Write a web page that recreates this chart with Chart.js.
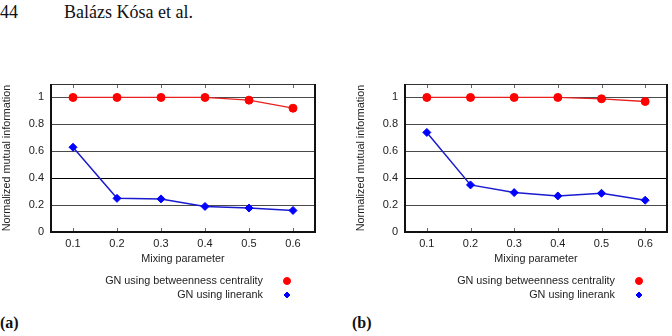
<!DOCTYPE html>
<html>
<head>
<meta charset="utf-8">
<script src="https://cdn.jsdelivr.net/npm/chart.js@4.4.0/dist/chart.umd.min.js"></script>
<style>
    html, body { margin: 0; padding: 0; width: 672px; height: 336px; overflow: hidden; background: #fff; }
    .serif { position: absolute; font-family: "Liberation Serif", "DejaVu Serif", serif; font-size: 16px; line-height: 16px; color: #111; }
    .head { font-size: 18px; line-height: 18px; top: 3px; }
    canvas { position: absolute; top: 60px; }
</style>
</head>
<body>
<div class="serif head" style="left:0;">44</div>
<div class="serif head" style="left:64px;">Balázs Kósa et al.</div>
<canvas id="chartA" width="336" height="250" style="left:0;"></canvas>
<canvas id="chartB" width="318" height="250" style="left:354px;"></canvas>
<div class="serif" style="left:0; top:315px; font-weight:bold;">(a)</div>
<div class="serif" style="left:352px; top:315px; font-weight:bold;">(b)</div>
<script>
// x categories and y tick values
var mixing = ['0.1', '0.2', '0.3', '0.4', '0.5', '0.6'];
var yTicks = [0, 0.2, 0.4, 0.6, 0.8, 1];
var seriesNames = ['GN using betweenness centrality', 'GN using linerank'];

// panel (a)
var betweennessA = [1, 1, 1, 1, 0.98, 0.92];
var linerankA = [0.63, 0.25, 0.246, 0.19, 0.178, 0.16];

// panel (b)
var betweennessB = [1, 1, 1, 1, 0.99, 0.97];
var linerankB = [0.74, 0.35, 0.293, 0.268, 0.288, 0.236];

var textFont = 'Liberation Sans, Arial, sans-serif';
var labelSize = 10.8;

// frame around plot area plus small inward ticks at the categories
var framePlugin = {
    id: 'frame',
    beforeDatasetsDraw: function (chart) {
        var ctx = chart.ctx;
        var a = chart.chartArea;
        var xs = chart.scales.x;
        ctx.save();
        ctx.strokeStyle = '#666';
        ctx.lineWidth = 1;
        for (var i = 0; i < xs.ticks.length; i++) {
            var px = Math.round(xs.getPixelForTick(i)) + 0.5;
            ctx.beginPath();
            ctx.moveTo(px, a.bottom); ctx.lineTo(px, a.bottom - 4);
            ctx.moveTo(px, a.top); ctx.lineTo(px, a.top + 4);
            ctx.stroke();
        }
        ctx.strokeStyle = '#333';
        ctx.beginPath();
        ctx.moveTo(a.left, Math.round(a.top) + 0.5);
        ctx.lineTo(a.right, Math.round(a.top) + 0.5);
        ctx.stroke();
        ctx.strokeStyle = '#111';
        ctx.lineWidth = 2;
        ctx.beginPath();
        ctx.moveTo(Math.round(a.left), a.top);
        ctx.lineTo(Math.round(a.left), Math.round(a.bottom));
        ctx.lineTo(Math.round(a.right), Math.round(a.bottom));
        ctx.lineTo(Math.round(a.right), a.top);
        ctx.stroke();
        ctx.restore();
    }
};

// gnuplot style key: right aligned text, marker on the right
var keyPlugin = {
    id: 'key',
    afterDraw: function (chart) {
        var ctx = chart.ctx;
        var a = chart.chartArea;
        ctx.save();
        ctx.font = labelSize + 'px ' + textFont;
        ctx.textAlign = 'right';
        ctx.textBaseline = 'middle';
        chart.data.datasets.forEach(function (ds, i) {
            var y = a.bottom + 49 + i * 14;
            ctx.fillStyle = '#222';
            ctx.fillText(ds.label, a.right - 52, y);
            ctx.fillStyle = ds.pointBackgroundColor;
            ctx.strokeStyle = ds.pointBorderColor;
            ctx.lineWidth = 1;
            Chart.helpers.drawPoint(ctx, {
                pointStyle: ds.pointStyle,
                radius: ds.pointStyle === 'circle' ? 3.5 : 3,
                rotation: 0,
                borderWidth: 1
            }, a.right - 28, y);
        });
        ctx.restore();
    }
};

function makeChart(id, betweenness, linerank, padRight) {
    var ctx = document.getElementById(id).getContext('2d');
    return new Chart(ctx, {
        type: 'line',
        data: {
            labels: mixing,
            datasets: [{
                label: seriesNames[0],
                data: betweenness,
                borderColor: '#e82020',
                borderWidth: 1.3,
                pointStyle: 'circle',
                pointRadius: 4,
                pointBorderWidth: 1,
                pointBackgroundColor: '#ff0000',
                pointBorderColor: '#ff0000',
                tension: 0
            }, {
                label: seriesNames[1],
                data: linerank,
                borderColor: '#1a1ad0',
                borderWidth: 1.5,
                pointStyle: 'rectRot',
                pointRadius: 4,
                pointBorderWidth: 1,
                pointBackgroundColor: '#0000ff',
                pointBorderColor: '#0000ff',
                tension: 0
            }]
        },
        options: {
            responsive: false,
            animation: false,
            devicePixelRatio: 1,
            layout: {
                padding: { left: 1, top: 24, right: padRight, bottom: 38 }
            },
            plugins: {
                legend: { display: false },
                tooltip: { enabled: false }
            },
            scales: {
                x: {
                    type: 'category',
                    offset: true,
                    grid: { display: false, drawTicks: false },
                    border: { display: false },
                    ticks: { color: '#222', padding: 5, font: { family: textFont, size: 11 } },
                    title: {
                        display: true,
                        text: 'Mixing parameter',
                        color: '#222',
                        padding: { top: 0, bottom: 6.5 },
                        font: { family: textFont, size: labelSize }
                    },
                    afterFit: function (scale) { scale.height = 40; }
                },
                y: {
                    min: 0,
                    max: 1.1,
                    afterBuildTicks: function (scale) {
                        scale.ticks = yTicks.map(function (v) { return { value: v }; });
                    },
                    grid: {
                        drawTicks: false,
                        lineWidth: 1,
                        color: function (c) { return c.tick && c.tick.value === 0.4 ? '#000' : '#4a4a4a'; }
                    },
                    border: { display: false },
                    ticks: {
                        color: '#222',
                        padding: 7,
                        font: { family: textFont, size: 11 },
                        callback: function (v) { return String(v); }
                    },
                    title: {
                        display: true,
                        text: 'Normalized mutual information',
                        color: '#222',
                        padding: { top: 0, bottom: 0 },
                        font: { family: textFont, size: labelSize }
                    },
                    afterFit: function (scale) { scale.width = 50; }
                }
            }
        },
        plugins: [framePlugin, keyPlugin]
    });
}

makeChart('chartA', betweennessA, linerankA, 21);
makeChart('chartB', betweennessB, linerankB, 3);
</script>
</body>
</html>
